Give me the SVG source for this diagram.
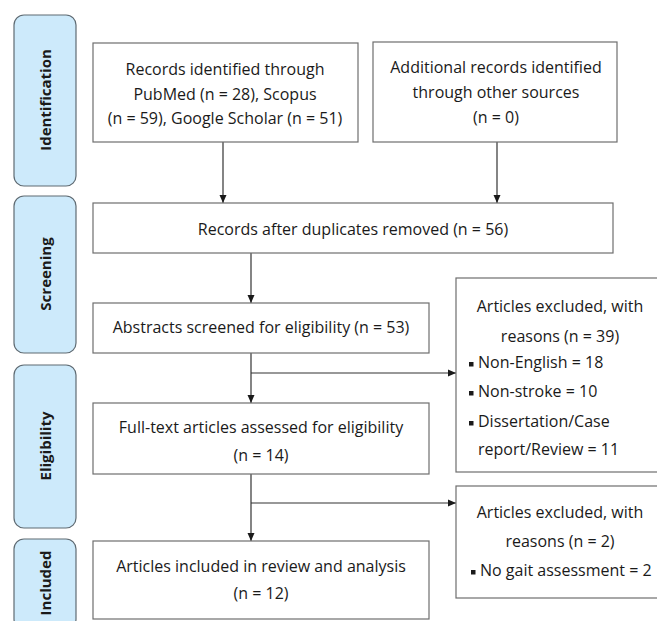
<svg xmlns="http://www.w3.org/2000/svg" width="657" height="621" viewBox="0 0 657 621">
<defs>
<style>
.phase{fill:#cdeafb;stroke:#5f6b73;stroke-width:1.2}
.box{fill:#ffffff;stroke:#6e6e6e;stroke-width:1.2}
.t{font-family:"Open Sans","Liberation Sans",sans-serif;font-size:16px;fill:#1a1a1a;text-anchor:middle}
.tl{font-family:"Open Sans","Liberation Sans",sans-serif;font-size:16px;fill:#1a1a1a}
.pl{font-family:"Open Sans","Liberation Sans",sans-serif;font-size:15px;font-weight:bold;fill:#1a1a1a;text-anchor:middle}
.ln{fill:none;stroke:#333333;stroke-width:1.2}
.bul{fill:#1a1a1a}
</style>
<marker id="ah" markerWidth="8" markerHeight="8" refX="8" refY="4" orient="auto" markerUnits="userSpaceOnUse">
<path d="M0,0.5 L8,4 L0,7.5 Z" fill="#1a1a1a"/>
</marker>
</defs>
<rect width="657" height="621" fill="#ffffff"/>

<g id="phase-identification">
<rect class="phase" x="14" y="15" width="62" height="171" rx="10"/>
<text class="pl" transform="translate(51,100) rotate(-90)">Identification</text>
</g>
<g id="phase-screening">
<rect class="phase" x="14" y="196" width="62" height="157" rx="10"/>
<text class="pl" transform="translate(51,274) rotate(-90)">Screening</text>
</g>
<g id="phase-eligibility">
<rect class="phase" x="14" y="365" width="62" height="163" rx="10"/>
<text class="pl" transform="translate(51,446) rotate(-90)">Eligibility</text>
</g>
<g id="phase-included">
<rect class="phase" x="14" y="539" width="62" height="90" rx="10"/>
<text class="pl" transform="translate(51,583) rotate(-90)">Included</text>
</g>

<g id="connectors">
<line class="ln" x1="223" y1="142" x2="223" y2="203" marker-end="url(#ah)"/>
<line class="ln" x1="497" y1="142" x2="497" y2="203" marker-end="url(#ah)"/>
<line class="ln" x1="251" y1="253" x2="251" y2="303" marker-end="url(#ah)"/>
<line class="ln" x1="251" y1="353" x2="251" y2="403" marker-end="url(#ah)"/>
<line class="ln" x1="251" y1="373" x2="456" y2="373" marker-end="url(#ah)"/>
<line class="ln" x1="251" y1="474" x2="251" y2="541" marker-end="url(#ah)"/>
<line class="ln" x1="251" y1="503" x2="456" y2="503" marker-end="url(#ah)"/>
</g>

<g id="records-databases">
<rect class="box" x="93" y="43" width="265" height="99"/>
<text class="t" x="225" y="75">Records identified through</text>
<text class="t" x="225" y="100">PubMed (n = 28), Scopus</text>
<text class="t" x="225" y="124">(n = 59), Google Scholar (n = 51)</text>
</g>
<g id="records-other">
<rect class="box" x="373" y="42" width="244" height="100"/>
<text class="t" x="496" y="73">Additional records identified</text>
<text class="t" x="496" y="98">through other sources</text>
<text class="t" x="496" y="123">(n = 0)</text>
</g>
<g id="records-deduplicated">
<rect class="box" x="93" y="203" width="520" height="50"/>
<text class="t" x="353" y="235">Records after duplicates removed (n = 56)</text>
</g>
<g id="abstracts-screened">
<rect class="box" x="93" y="303" width="336" height="50"/>
<text class="t" x="261" y="333">Abstracts screened for eligibility (n = 53)</text>
</g>
<g id="excluded-abstracts">
<rect class="box" x="456" y="278" width="220" height="194"/>
<text class="t" x="560" y="312">Articles excluded, with</text>
<text class="t" x="560" y="342">reasons (n = 39)</text>
<rect class="bul" x="469" y="362" width="4.5" height="4.5"/>
<text class="tl" x="478" y="368">Non-English = 18</text>
<rect class="bul" x="469" y="391" width="4.5" height="4.5"/>
<text class="tl" x="478" y="397">Non-stroke = 10</text>
<rect class="bul" x="469" y="421" width="4.5" height="4.5"/>
<text class="tl" x="478" y="427">Dissertation/Case</text>
<text class="tl" x="478" y="455">report/Review = 11</text>
</g>
<g id="fulltext-assessed">
<rect class="box" x="93" y="403" width="336" height="71"/>
<text class="t" x="261" y="433">Full-text articles assessed for eligibility</text>
<text class="t" x="261" y="461">(n = 14)</text>
</g>
<g id="excluded-fulltext">
<rect class="box" x="456" y="486" width="220" height="112"/>
<text class="t" x="560" y="518">Articles excluded, with</text>
<text class="t" x="560" y="547">reasons (n = 2)</text>
<rect class="bul" x="471" y="570" width="4.5" height="4.5"/>
<text class="tl" x="480" y="576">No gait assessment = 2</text>
</g>
<g id="included">
<rect class="box" x="93" y="541" width="336" height="78"/>
<text class="t" x="261" y="572">Articles included in review and analysis</text>
<text class="t" x="261" y="599">(n = 12)</text>
</g>
</svg>
